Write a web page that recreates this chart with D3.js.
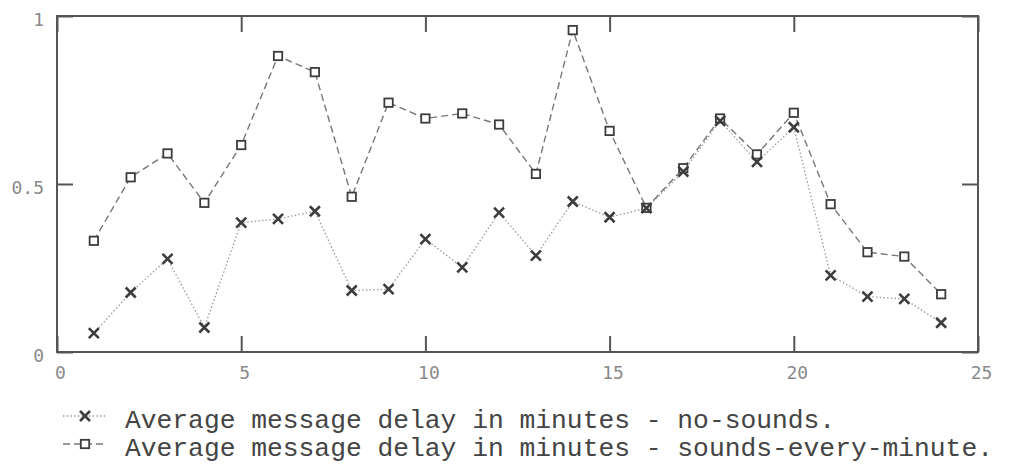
<!DOCTYPE html>
<html>
<head>
<meta charset="utf-8">
<script src="https://cdn.jsdelivr.net/npm/d3@7"></script>
<style>
  html, body { margin: 0; padding: 0; background: #fff; }
  svg { display: block; }
</style>
</head>
<body>
<svg id="chart" width="1013" height="467"></svg>
<script>
// ---- data ----
const minutes = [1,2,3,4,5,6,7,8,9,10,11,12,13,14,15,16,17,18,19,20,21,22,23,24];
const noSounds = [0.056,0.177,0.277,0.073,0.385,0.396,0.419,0.183,0.187,0.336,0.252,0.415,
                  0.287,0.448,0.401,0.428,0.537,0.688,0.566,0.669,0.228,0.165,0.158,0.087];
const soundsEveryMinute = [0.331,0.520,0.591,0.444,0.616,0.881,0.833,0.462,0.742,0.695,0.710,0.677,
                  0.530,0.958,0.658,0.429,0.547,0.695,0.588,0.712,0.440,0.297,0.284,0.172];
const xTicks = [0,5,10,15,20,25];
const yTicks = [0,0.5,1];
const yTickLabels = ["0","0.5","1"];
const legendLabels = ["Average message delay in minutes - no-sounds.",
                      "Average message delay in minutes - sounds-every-minute."];

// ---- layout ----
const L = 57, R = 978, T = 16, B = 352;
const svg = d3.select("#chart");
const x = d3.scaleLinear().domain([0,25]).range([L,R]);
const y = d3.scaleLinear().domain([0,1]).range([B,T]);

const frameColor = "#555";
const tickFont = "'DejaVu Sans Mono', monospace";

function styleAxis(g, showLabels) {
  g.select(".domain").remove();
  g.selectAll(".tick line").attr("stroke", frameColor).attr("stroke-width", 2);
  if (!showLabels) g.selectAll(".tick text").remove();
  else g.selectAll(".tick text").attr("fill", "#8a8a8a")
        .style("font-family", tickFont).style("font-size", "18px");
}

// bottom axis
svg.append("g").attr("transform", `translate(0,${B})`)
  .call(d3.axisBottom(x).tickValues(xTicks).tickSize(-16).tickPadding(14).tickFormat(d3.format("d")))
  .call(g => styleAxis(g, true))
  .call(g => g.selectAll(".tick text").attr("dx", 3));
// top axis (mirror ticks)
svg.append("g").attr("transform", `translate(0,${T})`)
  .call(d3.axisTop(x).tickValues(xTicks).tickSize(-16))
  .call(g => styleAxis(g, false));
// left axis
svg.append("g").attr("transform", `translate(${L},0)`)
  .call(d3.axisLeft(y).tickValues(yTicks).tickSize(-16).tickPadding(13)
        .tickFormat((d,i) => yTickLabels[i]))
  .call(g => styleAxis(g, true))
  .call(g => g.selectAll(".tick text").attr("dy", "0.52em"));
// right axis (mirror ticks)
svg.append("g").attr("transform", `translate(${R},0)`)
  .call(d3.axisRight(y).tickValues(yTicks).tickSize(-16))
  .call(g => styleAxis(g, false));

// frame
svg.append("rect").attr("x", L).attr("y", T).attr("width", R - L).attr("height", B - T)
  .attr("fill", "none").attr("stroke", frameColor).attr("stroke-width", 2);

// series
const series = [
  { name: legendLabels[0], values: noSounds, marker: "cross",
    stroke: "#9a9a9a", dash: "1.5,2.2", width: 1.3 },
  { name: legendLabels[1], values: soundsEveryMinute, marker: "square",
    stroke: "#777", dash: "7,4", width: 1.4 }
];

const line = d3.line().x(d => x(d[0])).y(d => y(d[1]));

function drawMarker(g, type, cx, cy) {
  if (type === "cross") {
    const s = 5;
    g.append("path")
      .attr("d", `M${cx-s},${cy-s}L${cx+s},${cy+s}M${cx-s},${cy+s}L${cx+s},${cy-s}`)
      .attr("stroke", "#3d3d3d").attr("stroke-width", 2.6).attr("fill", "none");
  } else {
    const s = 4.2;
    g.append("rect").attr("x", cx - s).attr("y", cy - s).attr("width", 2*s).attr("height", 2*s)
      .attr("fill", "#fff").attr("stroke", "#3d3d3d").attr("stroke-width", 1.8);
  }
}

series.forEach(s => {
  const pts = minutes.map((m,i) => [m, s.values[i]]);
  svg.append("path").datum(pts).attr("d", line)
    .attr("fill", "none").attr("stroke", s.stroke)
    .attr("stroke-width", s.width).attr("stroke-dasharray", s.dash);
});
[series[1], series[0]].forEach(s => {
  const g = svg.append("g");
  minutes.forEach((m,i) => drawMarker(g, s.marker, x(m), y(s.values[i])));
});

// legend
const legendRowY = [416, 444];
series.forEach((s, i) => {
  const ly = legendRowY[i];
  svg.append("line").attr("x1", 63).attr("x2", 106).attr("y1", ly).attr("y2", ly)
    .attr("stroke", s.stroke).attr("stroke-width", s.width).attr("stroke-dasharray", s.dash);
  drawMarker(svg.append("g"), s.marker, 85, ly);
  svg.append("text").attr("x", 125).attr("y", ly + 12)
    .attr("fill", "#444")
    .style("font-family", "'Liberation Mono', 'Courier New', monospace")
    .style("font-size", "26.3px")
    .text(s.name);
});
</script>
</body>
</html>
